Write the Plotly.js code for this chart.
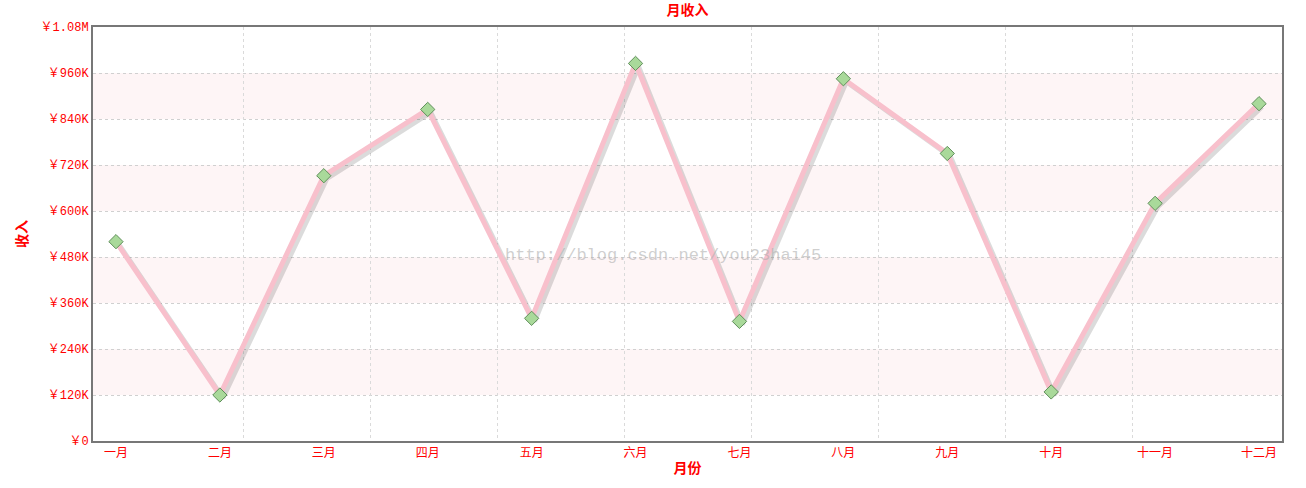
<!DOCTYPE html>
<html>
<head>
<meta charset="utf-8">
<script src="https://cdn.plot.ly/plotly-3.0.1.min.js"></script>
<style>html,body{margin:0;padding:0;background:#fff;}#chart{width:1306px;height:488px;}</style>
</head>
<body>
<div id="chart"></div>
<script>
// ---- data ----
const months = ['一月','二月','三月','四月','五月','六月','七月','八月','九月','十月','十一月','十二月'];
const income = [520000, 120000, 692000, 865000, 320000, 985000, 312000, 945000, 750000, 128000, 620000, 880000];
const yTickVals = [0, 120000, 240000, 360000, 480000, 600000, 720000, 840000, 960000, 1080000];
const yTickText = ['￥0','￥120K','￥240K','￥360K','￥480K','￥600K','￥720K','￥840K','￥960K','￥1.08M'];
const vGridVals = [1, 2, 3, 4, 5, 6, 7, 8];
const bandPairs = [[120000, 240000], [360000, 480000], [600000, 720000], [840000, 960000]];
const watermark = 'http://blog.csdn.net/you23hai45';

const RED = '#ff0000';
const FONT = 'Liberation Mono, "Noto Sans CJK SC", monospace';
const CJK = '"Noto Sans CJK SC", sans-serif';

// pixel geometry of plot area
const plotH = 441 - 27, plotW = 1282 - 93;
const yMax = 1080000;
const xR = [-0.221, 11.221];
const pxY = yMax / plotH;
const pxX = (xR[1] - xR[0]) / plotW;
const sh = 3; // shadow offset px
const idx = months.map((m, i) => i);

const traces = [
  { // invisible trace on the main category axis (drives labels)
    x: months, y: income, xaxis: 'x', yaxis: 'y', mode: 'markers',
    marker: { opacity: 0 }, hoverinfo: 'skip'
  },
  { // invisible trace to activate the vertical grid axis
    x: [0], y: [0], xaxis: 'x2', yaxis: 'y', mode: 'markers', marker: { opacity: 0 }, hoverinfo: 'skip'
  },
  { // shadow
    x: idx, y: income, xaxis: 'x3', yaxis: 'y3',
    type: 'scatter', mode: 'lines', hoverinfo: 'skip',
    line: { color: 'rgba(0,0,0,0.14)', width: 5 }
  },
  { // main line + markers
    x: idx, y: income, xaxis: 'x4', yaxis: 'y4',
    type: 'scatter', mode: 'lines+markers', name: '收入',
    line: { color: '#f8c0cc', width: 5 },
    marker: { symbol: 'diamond', size: 11, color: '#a9d99a', line: { color: '#5f8f5a', width: 1 } }
  }
];

const shapes = bandPairs.map(b => ({
  type: 'rect', xref: 'paper', yref: 'y', x0: 0, x1: 1, y0: b[0], y1: b[1],
  fillcolor: '#fef5f6', line: { width: 0 }, layer: 'below'
}));

const layout = {
  width: 1306, height: 488,
  margin: { l: 93, r: 24, t: 27, b: 47 },
  paper_bgcolor: '#ffffff', plot_bgcolor: '#ffffff',
  showlegend: false,
  title: { text: '<b>月收入</b>', font: { family: CJK, size: 14, color: RED },
           x: 0.5, xref: 'paper', y: 1 - 10 / 488, yref: 'container', yanchor: 'middle', pad: { t: 0, b: 0 } },
  xaxis: {
    type: 'category', categoryarray: months, range: xR, showgrid: false, zeroline: false,
    showline: true, linecolor: '#777777', linewidth: 2, mirror: true,
    ticks: '', tickfont: { family: CJK, size: 12, color: RED },
    title: { text: '<b>月份</b>', font: { family: CJK, size: 14, color: RED }, standoff: 4 }
  },
  yaxis: {
    range: [0, yMax], tickvals: yTickVals, ticktext: yTickText,
    showgrid: true, gridcolor: '#d0d0d0', griddash: 'dot', gridwidth: 1, zeroline: false,
    showline: true, linecolor: '#777777', linewidth: 2, mirror: true,
    ticks: '', tickfont: { family: FONT, size: 12, color: RED },
    title: { text: '<b>收入</b>', font: { family: CJK, size: 14, color: RED }, standoff: 10 }
  },
  xaxis2: {
    overlaying: 'x', range: [-0.18, 9.172], tickvals: vGridVals, showticklabels: false,
    showgrid: true, gridcolor: '#dadada', griddash: 'dot', gridwidth: 1, zeroline: false,
    showline: false, ticks: ''
  },
  xaxis3: { overlaying: 'x', range: [xR[0] - sh * pxX, xR[1] - sh * pxX], visible: false },
  yaxis3: { overlaying: 'y', range: [sh * pxY, yMax + sh * pxY], visible: false },
  xaxis4: { overlaying: 'x', range: xR, visible: false },
  yaxis4: { overlaying: 'y', range: [0, yMax], visible: false },
  shapes: shapes,
  annotations: [{
    text: watermark, xref: 'paper', yref: 'paper', x: (663 - 93) / plotW, y: (441 - 255) / plotH,
    showarrow: false, font: { family: 'Liberation Mono, monospace', size: 17, color: 'rgba(175,175,175,0.6)' }
  }]
};

Plotly.newPlot('chart', traces, layout, { displayModeBar: false, staticPlot: true });
</script>
</body>
</html>
